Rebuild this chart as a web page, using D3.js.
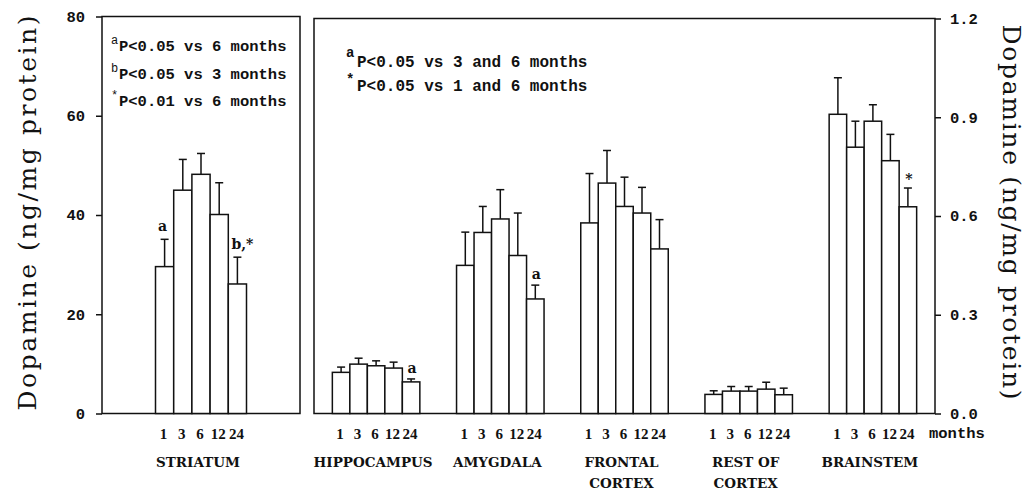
<!DOCTYPE html>
<html>
<head>
<meta charset="utf-8">
<script src="https://cdn.jsdelivr.net/npm/d3@7/dist/d3.min.js"></script>
<style>
    body { margin: 0; background: #fff; }
    svg { display: block; }
</style>
</head>
<body>
<svg id="chart" width="1030" height="490"></svg>
<script>
// 数据
const months = ["1", "3", "6", "12", "24"];

const striatumMean = [29.6, 45.0, 48.2, 40.1, 26.1];
const striatumSem = [5.5, 6.2, 4.2, 6.4, 5.4];

const regions = ["HIPPOCAMPUS", "AMYGDALA", "FRONTAL CORTEX", "REST OF CORTEX", "BRAINSTEM"];
const regionLabels = [["HIPPOCAMPUS"], ["AMYGDALA"], ["FRONTAL", "CORTEX"], ["REST OF", "CORTEX"], ["BRAINSTEM"]];

const hippocampusMean = [0.125, 0.150, 0.145, 0.138, 0.096];
const hippocampusSem = [0.016, 0.018, 0.015, 0.018, 0.009];
const amygdalaMean = [0.450, 0.550, 0.591, 0.480, 0.348];
const amygdalaSem = [0.101, 0.079, 0.089, 0.129, 0.042];
const frontalMean = [0.579, 0.700, 0.629, 0.609, 0.500];
const frontalSem = [0.150, 0.099, 0.089, 0.078, 0.089];
const restMean = [0.058, 0.068, 0.068, 0.074, 0.057];
const restSem = [0.011, 0.014, 0.014, 0.021, 0.020];
const brainstemMean = [0.909, 0.809, 0.888, 0.768, 0.628];
const brainstemSem = [0.111, 0.079, 0.050, 0.080, 0.057];

const leftTicks = [0, 20, 40, 60, 80];
const rightTicks = [0, 0.3, 0.6, 0.9, 1.2];

// 显著性标记: [区域序号, 月份序号, 文本]
const striatumMarks = [[0, "a"], [4, "b,*"]];
const regionMarks = [[0, 4, "a"], [1, 4, "a"], [4, 4, "*"]];

const leftNotes = [["a", "P<0.05 vs 6 months"], ["b", "P<0.05 vs 3 months"], ["*", "P<0.01 vs 6 months"]];
const rightNotes = [["a", "P<0.05 vs 3 and 6 months"], ["*", "P<0.05 vs 1 and 6 months"]];

const yTitle = "Dopamine (ng/mg protein)";

const MONO = "'Liberation Mono', 'DejaVu Sans Mono', monospace";
const SERIF = "'DejaVu Serif', 'Liberation Serif', serif";
const NARROW_SERIF = "'Liberation Serif', serif";

const svg = d3.select("#chart");

// 比例尺
const yL = d3.scaleLinear().domain([0, 80]).range([413.5, 16.5]);
const yR = d3.scaleLinear().domain([0, 1.2]).range([413.5, 18.5]);

const xL = d3.scaleBand().domain(["STRIATUM"]).range([102, 300]);
const xR = d3.scaleBand().domain(regions).range([314, 935]);

const monthL = d3.scaleBand().domain(months).range([0, 91]);
const monthR = d3.scaleBand().domain(months).range([0, 87.5]);

const regionData = [
    [hippocampusMean, hippocampusSem],
    [amygdalaMean, amygdalaSem],
    [frontalMean, frontalSem],
    [restMean, restSem],
    [brainstemMean, brainstemSem]
];

// 面板边框
svg.append("rect")
    .attr("x", xL.range()[0]).attr("y", yL(80))
    .attr("width", xL.range()[1] - xL.range()[0]).attr("height", yL(0) - yL(80))
    .attr("fill", "none").attr("stroke", "#111").attr("stroke-width", 1.5);

svg.append("rect")
    .attr("x", xR.range()[0]).attr("y", yR(1.2))
    .attr("width", xR.range()[1] - xR.range()[0]).attr("height", yR(0) - yR(1.2))
    .attr("fill", "none").attr("stroke", "#111").attr("stroke-width", 1.5);

// 坐标轴
const axL = svg.append("g")
    .attr("transform", `translate(${xL.range()[0]},0)`)
    .call(d3.axisLeft(yL).tickValues(leftTicks).tickSize(6).tickPadding(11).tickFormat(d3.format("d")));

const axR = svg.append("g")
    .attr("transform", `translate(${xR.range()[1]},0)`)
    .call(d3.axisRight(yR).tickValues(rightTicks).tickSize(6).tickPadding(9).tickFormat(d3.format(".1f")));

[axL, axR].forEach(ax => {
    ax.select(".domain").remove();
    ax.selectAll("line").attr("stroke", "#111").attr("stroke-width", 1.5);
    ax.selectAll("text")
        .attr("fill", "#111")
        .style("font-family", MONO)
        .style("font-weight", "bold")
        .style("font-size", "15.5px");
});

/**
 * 绘制一组柱子和误差线
 */
function drawGroup(x0, band, means, sems, y) {
    const g = svg.append("g").attr("transform", `translate(${x0},0)`);
    const rows = months.map((m, i) => ({ m, mean: means[i], sem: sems[i] }));

    g.selectAll(".err")
        .data(rows)
        .enter()
        .append("line")
        .attr("x1", d => band(d.m) + band.bandwidth() / 2)
        .attr("x2", d => band(d.m) + band.bandwidth() / 2)
        .attr("y1", d => y(d.mean))
        .attr("y2", d => y(d.mean + d.sem))
        .attr("stroke", "#111").attr("stroke-width", 1.5);

    g.selectAll(".cap")
        .data(rows)
        .enter()
        .append("line")
        .attr("x1", d => band(d.m) + band.bandwidth() / 2 - 4)
        .attr("x2", d => band(d.m) + band.bandwidth() / 2 + 4)
        .attr("y1", d => y(d.mean + d.sem))
        .attr("y2", d => y(d.mean + d.sem))
        .attr("stroke", "#111").attr("stroke-width", 1.5);

    g.selectAll(".bar")
        .data(rows)
        .enter()
        .append("rect")
        .attr("x", d => band(d.m))
        .attr("y", d => y(d.mean))
        .attr("width", band.bandwidth())
        .attr("height", d => y(0) - y(d.mean))
        .attr("fill", "#fff")
        .attr("stroke", "#111").attr("stroke-width", 1.5);

    // 月份刻度
    g.selectAll(".mlabel")
        .data(months)
        .enter()
        .append("text")
        .attr("x", d => band(d) + band.bandwidth() / 2 - 1)
        .attr("y", 439)
        .attr("text-anchor", "middle")
        .style("font-family", NARROW_SERIF)
        .style("font-weight", "bold")
        .style("font-size", "15px")
        .attr("fill", "#111")
        .text(d => d);

    return g;
}

function groupLabel(cx, lines) {
    svg.append("text")
        .attr("text-anchor", "middle")
        .style("font-family", SERIF)
        .style("font-weight", "bold")
        .style("font-size", "13.5px")
        .attr("fill", "#111")
        .selectAll("tspan")
        .data(lines)
        .enter()
        .append("tspan")
        .attr("x", cx - 3)
        .attr("y", (d, i) => 467 + i * 21)
        .text(d => d);
}

function mark(x, y, text) {
    svg.append("text")
        .attr("x", x)
        .attr("y", y)
        .attr("text-anchor", "middle")
        .style("font-family", SERIF)
        .style("font-weight", "bold")
        .style("font-size", "14px")
        .attr("fill", "#111")
        .text(text);
}

// 纹状体
const offL = xL("STRIATUM") + (xL.bandwidth() - 91) / 2;
drawGroup(offL, monthL, striatumMean, striatumSem, yL);
groupLabel(xL("STRIATUM") + xL.bandwidth() / 2, ["STRIATUM"]);
striatumMarks.forEach(([i, t]) => {
    mark(offL + monthL(months[i]) + monthL.bandwidth() / 2 + (t.length > 1 ? 5 : -2),
        yL(striatumMean[i] + striatumSem[i]) - 8, t);
});

// 其他脑区
regions.forEach((r, k) => {
    const off = xR(r) + (xR.bandwidth() - 87.5) / 2;
    drawGroup(off, monthR, regionData[k][0], regionData[k][1], yR);
    groupLabel(xR(r) + xR.bandwidth() / 2, regionLabels[k]);
});
regionMarks.forEach(([k, i, t]) => {
    const off = xR(regions[k]) + (xR.bandwidth() - 87.5) / 2;
    const top = yR(regionData[k][0][i] + regionData[k][1][i]);
    mark(off + monthR(months[i]) + monthR.bandwidth() / 2 + 1, t === "*" ? top - 4 : top - 6, t);
});

svg.append("text")
    .attr("x", 929).attr("y", 438)
    .style("font-family", MONO)
    .style("font-weight", "bold")
    .style("font-size", "15.5px")
    .attr("fill", "#111")
    .text("months");

// 图注
leftNotes.forEach(([s, t], i) => {
    const yy = 51 + i * 27.5;
    svg.append("text").attr("x", 111).attr("y", yy - 7)
        .style("font-family", MONO).style("font-size", "12px").attr("fill", "#111").text(s);
    svg.append("text").attr("x", 119).attr("y", yy)
        .style("font-family", MONO).style("font-weight", "bold").style("font-size", "15.5px")
        .attr("fill", "#111").text(t);
});

rightNotes.forEach(([s, t], i) => {
    const yy = 67 + i * 24;
    svg.append("text").attr("x", 346).attr("y", yy - (s === "*" ? 7 : 10))
        .style("font-family", MONO).style("font-weight", "bold").style("font-size", "14px")
        .attr("fill", "#111").text(s);
    svg.append("text").attr("x", 357).attr("y", yy)
        .style("font-family", MONO).style("font-weight", "bold").style("font-size", "16px")
        .attr("fill", "#111").text(t);
});

// 纵轴标题 (衬线字体, 拉伸到原图的宽度)
svg.append("text")
    .attr("transform", "translate(27,213) rotate(-90)")
    .attr("text-anchor", "middle")
    .attr("dominant-baseline", "central")
    .attr("textLength", 395)
    .attr("lengthAdjust", "spacing")
    .style("font-family", SERIF)
    .style("font-size", "25px")
    .attr("fill", "#111")
    .text(yTitle);

svg.append("text")
    .attr("transform", "translate(1011,212) rotate(90)")
    .attr("text-anchor", "middle")
    .attr("dominant-baseline", "central")
    .attr("textLength", 375)
    .attr("lengthAdjust", "spacing")
    .style("font-family", SERIF)
    .style("font-size", "25px")
    .attr("fill", "#111")
    .text(yTitle);
</script>
</body>
</html>
